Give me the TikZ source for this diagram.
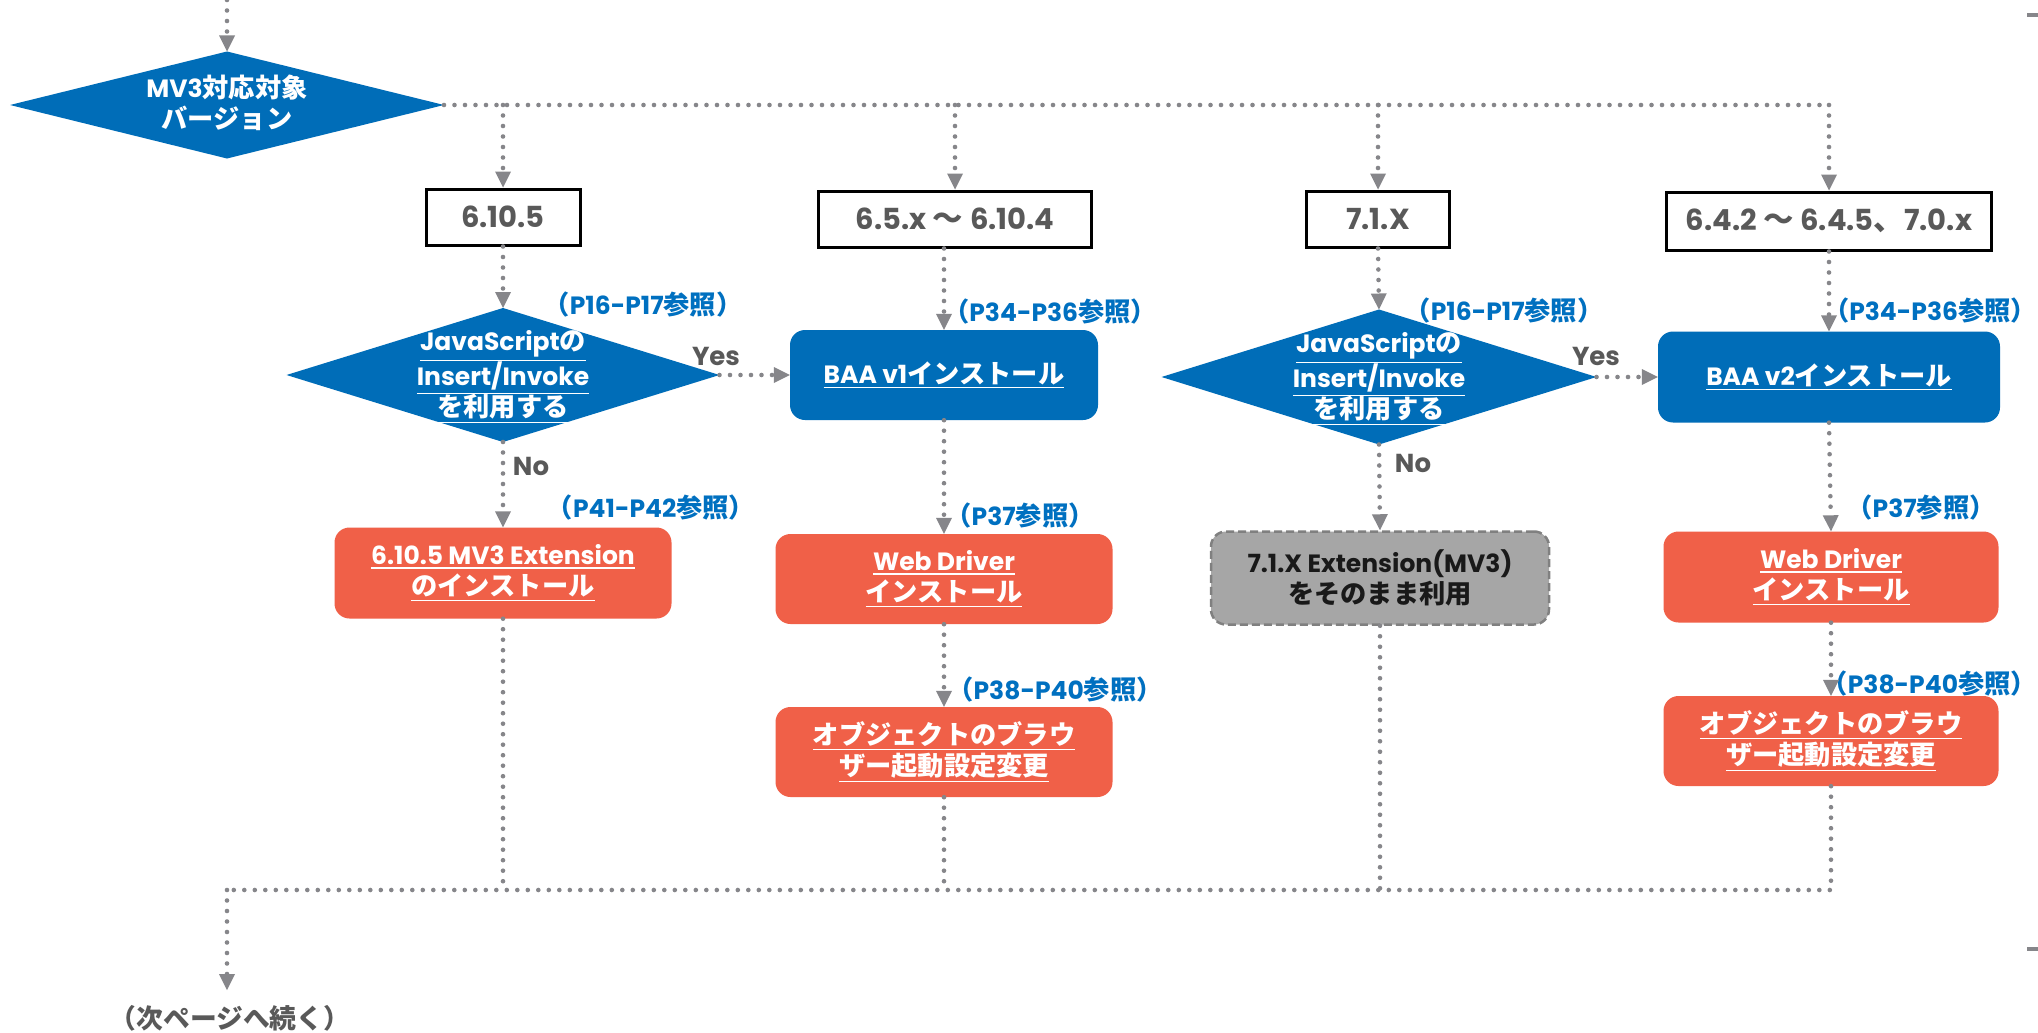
\documentclass[tikz,border=0pt]{standalone}
\usepackage{fontspec}
\setmainfont{Poppins}
\newfontfamily\jpfont{Noto Sans CJK JP}[Scale=1.05]
\usetikzlibrary{shapes.geometric, arrows.meta}
% automatic switch to the Japanese font for CJK characters
\XeTeXinterchartokenstate=1
\newXeTeXintercharclass\JPcls
\makeatletter
\def\setJPrange#1#2{\count@=#1\relax
  \loop\XeTeXcharclass\count@=\JPcls\relax
  \ifnum\count@<#2\advance\count@ by 1\repeat}
\setJPrange{"3000}{"30FF}
\setJPrange{"4E00}{"9FFF}
\setJPrange{"FF00}{"FFEF}
\makeatother
\XeTeXinterchartoks 0 \JPcls = {\jpfont}
\XeTeXinterchartoks 4095 \JPcls = {\jpfont}
\XeTeXinterchartoks \JPcls 0 = {\rmfamily}
\XeTeXinterchartoks 4095 0 = {\rmfamily}

\definecolor{bblue}{HTML}{006DB8}
\definecolor{orng}{HTML}{F06048}
\definecolor{gboxc}{HTML}{A6A6A6}
\definecolor{gborder}{HTML}{808080}
\definecolor{connc}{HTML}{86868A}
\definecolor{dtext}{HTML}{595959}
\definecolor{lblc}{HTML}{0070C0}

\newcommand\ul[1]{\setbox0=\hbox{#1}\vtop{\copy0\kern2pt\hrule height1.6pt width\wd0}}

\tikzset{
  conn/.style={draw=connc, line width=4.6pt, dash pattern=on 0pt off 10.5pt, line cap=round},
  arr/.style={conn, -{Triangle[length=16pt,width=16pt,line width=0pt,fill=connc]}},
  edgemark/.style={draw=connc, line width=4pt},
  decision/.style={diamond, fill=bblue, inner sep=0pt, outer sep=0pt},
  dtxt/.style={text=white, align=center, inner sep=0pt, font=\fontsize{25}{31}\selectfont\bfseries},
  vbox/.style={rectangle, draw=black, line width=3pt, fill=white, minimum height=56pt, text=dtext, inner sep=0pt, font=\fontsize{29}{34}\selectfont\bfseries},
  rbox/.style={rectangle, rounded corners=15pt, minimum height=90pt, text=white, align=center, inner sep=0pt, font=\fontsize{25}{31}\selectfont\bfseries},
  bluebox/.style={rbox, fill=bblue},
  orbox/.style={rbox, fill=orng},
  graybox/.style={rbox, fill=gboxc, draw=gborder, line width=2.5pt, dash pattern=on 8pt off 4pt, text=black!90},
  reflbl/.style={text=lblc, inner sep=0pt, font=\fontsize{25}{30}\selectfont\bfseries},
  yn/.style={text=dtext, inner sep=0pt, font=\fontsize{26}{30}\selectfont\bfseries},
  conttxt/.style={text=dtext, inner sep=0pt, font=\fontsize{25.5}{30}\selectfont\bfseries},
}

\begin{document}
\begin{tikzpicture}[x=1pt,y=-1pt]
\fill[white] (0,0) rectangle (2038,1033);
\useasboundingbox (0,0) rectangle (2038,1033);

% edge marks
\coordinate (m1a) at (2027,15); \coordinate (m1b) at (2038,15);
\coordinate (m2a) at (2027,949); \coordinate (m2b) at (2038,949);
\draw[edgemark] (m1a) -- (m1b);
\draw[edgemark] (m2a) -- (m2b);

% top decision
\coordinate (top) at (227,0);
\node[decision, minimum width=434pt, minimum height=107pt] (d1) at (227,105) {};
\node[dtxt] (d1t) at (227,103) {MV3対応対象\\バージョン};
\draw[arr] (top) -- (d1.north);

% version boxes
\node[vbox, minimum width=154pt] (v1) at (503,217) {6.10.5};
\node[vbox, minimum width=273pt] (v2) at (955,219) {6.5.x ～ 6.10.4};
\node[vbox, minimum width=143pt] (v3) at (1378,219) {7.1.X};
\node[vbox, minimum width=325pt, minimum height=58pt] (v4) at (1829,221) {6.4.2 ～ 6.4.5、7.0.x};

\draw[conn] (d1.east) -- (d1.east -| v4.north);
\draw[arr] (d1.east -| v1.north) -- (v1.north);
\draw[arr] (d1.east -| v2.north) -- (v2.north);
\draw[arr] (d1.east -| v3.north) -- (v3.north);
\draw[arr] (d1.east -| v4.north) -- (v4.north);

% column 1 / 2
\node[decision, minimum width=433pt, minimum height=134pt] (d2) at (503,375) {};
\node[dtxt] (d2t) at (503,377) {\ul{JavaScriptの}\\\ul{Insert/Invoke}\\\ul{を利用する}};
\node[reflbl] (r1) at (643,305) {（P16-P17参照）};
\draw[arr] (v1.south) -- (d2.north);

\node[bluebox, minimum width=308pt] (b1) at (944,375) {\ul{BAA v1インストール}};
\node[reflbl] (r2) at (1050,312) {（P34-P36参照）};
\draw[arr] (d2.east) -- (b1.west);
\node[yn] (yes1) at (716,356) {Yes};
\draw[arr] (v2.south -| b1.north) -- (b1.north);

\node[orbox, minimum width=337pt, minimum height=91pt] (e1) at (503,573) {\ul{6.10.5 MV3 Extension}\\\ul{のインストール}};
\node[reflbl] (r3) at (651,508) {（P41-P42参照）};
\node[yn] (no1) at (531,466) {No};
\draw[arr] (d2.south) -- (e1.north);

\node[orbox, minimum width=337pt] (w1) at (944,579) {\ul{Web Driver}\\\ul{インストール}};
\node[reflbl] (r4) at (1020,516) {（P37参照）};
\draw[arr] (b1.south) -- (w1.north);

\node[orbox, minimum width=337pt] (o1) at (944,752) {\ul{オブジェクトのブラウ}\\\ul{ザー起動設定変更}};
\node[reflbl] (r5) at (1055,690) {（P38-P40参照）};
\draw[arr] (w1.south) -- (o1.north);

% column 3 / 4
\node[decision, minimum width=435pt, minimum height=135pt] (d3) at (1379,377) {};
\node[dtxt] (d3t) at (1379,379) {\ul{JavaScriptの}\\\ul{Insert/Invoke}\\\ul{を利用する}};
\node[reflbl] (r6) at (1504,311) {（P16-P17参照）};
\draw[arr] (v3.south) -- (d3.north);

\node[bluebox, minimum width=342pt, minimum height=91pt] (b2) at (1829,377) {\ul{BAA v2インストール}};
\node[reflbl, anchor=east] (r7) at (2037,311) {（P34-P36参照）};
\draw[arr] (d3.east) -- (b2.west);
\node[yn] (yes2) at (1596,356) {Yes};
\draw[arr] (v4.south) -- (b2.north);

\node[graybox, minimum width=338pt, minimum height=93pt] (g1) at (1380,578) {7.1.X Extension(MV3)\\をそのまま利用};
\node[yn] (no2) at (1413,463) {No};
\draw[arr] (d3.south) -- (g1.north);

\node[orbox, minimum width=335pt, minimum height=91pt] (w2) at (1831,577) {\ul{Web Driver}\\\ul{インストール}};
\node[reflbl] (r8) at (1921,508) {（P37参照）};
\draw[arr] (b2.south) -- (w2.north);

\node[orbox, minimum width=335pt] (o2) at (1831,741) {\ul{オブジェクトのブラウ}\\\ul{ザー起動設定変更}};
\node[reflbl, anchor=east] (r9) at (2037,684) {（P38-P40参照）};
\draw[arr] (w2.south) -- (o2.north);

% bottom merge
\coordinate (bl) at (227,890);
\coordinate (contend) at (227,990);
\draw[conn] (o2.south) -- (o2.south |- bl) -- (bl);
\draw[conn] (e1.south) -- (e1.south |- bl);
\draw[conn] (o1.south) -- (o1.south |- bl);
\draw[conn] (g1.south) -- (g1.south |- bl);
\draw[arr] (bl) -- (contend);
\node[conttxt] (cont) at (230,1018) {（次ページへ続く）};
\end{tikzpicture}
\end{document}
